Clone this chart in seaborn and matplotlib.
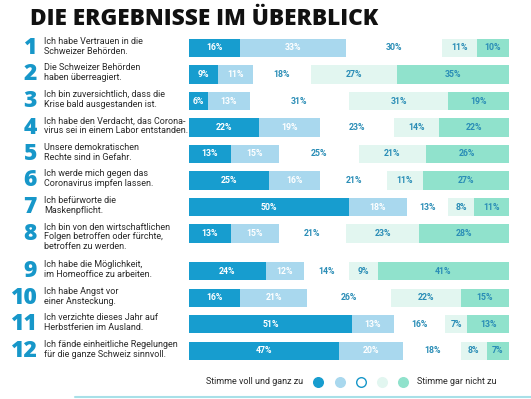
import matplotlib
matplotlib.use("Agg")
import matplotlib.pyplot as plt
import numpy as np
import pandas as pd
import seaborn as sns

# ── Daten ────────────────────────────────────
fragen = [
    "Ich habe Vertrauen in die\nSchweizer Behörden.",
    "Die Schweizer Behörden\nhaben überreagiert.",
    "Ich bin zuversichtlich, dass die\nKrise bald ausgestanden ist.",
    "Ich habe den Verdacht, das Corona-\nvirus sei in einem Labor entstanden.",
    "Unsere demokratischen\nRechte sind in Gefahr.",
    "Ich werde mich gegen das\nCoronavirus impfen lassen.",
    "Ich befürworte die\nMaskenpflicht.",
    "Ich bin von den wirtschaftlichen\nFolgen betroffen oder fürchte,\nbetroffen zu werden.",
    "Ich habe die Möglichkeit,\nim Homeoffice zu arbeiten.",
    "Ich habe Angst vor\neiner Ansteckung.",
    "Ich verzichte dieses Jahr auf\nHerbstferien im Ausland.",
    "Ich fände einheitliche Regelungen\nfür die ganze Schweiz sinnvoll.",
]
voll_zu   = [16, 9, 6, 22, 13, 25, 50, 13, 24, 16, 51, 47]
eher_zu   = [33, 11, 13, 19, 15, 16, 18, 15, 12, 21, 13, 20]
neutral   = [30, 18, 31, 23, 25, 21, 13, 21, 14, 26, 16, 18]
eher_nein = [11, 27, 31, 14, 21, 11, 8, 23, 9, 22, 7, 8]
gar_nicht = [10, 35, 19, 22, 26, 27, 11, 28, 41, 15, 13, 7]

legende_links = "Stimme voll und ganz zu"
legende_rechts = "Stimme gar nicht zu"
titel = "DIE ERGEBNISSE IM ÜBERBLICK"

# ── Stil ─────────────────────────────────────
farben = ["#179dcf", "#a9d8ee", "#ffffff", "#e2f6f0", "#90e2cc"]
text_farben = ["white", "white", "#2a8db6", "#2a8db6", "#2a8db6"]
nummer_farbe = "#1797c9"

sns.set_style("white")
plt.rcParams["font.family"] = ["Roboto", "DejaVu Sans"]

segmente = [voll_zu, eher_zu, neutral, eher_nein, gar_nicht]
df = pd.DataFrame(np.array(segmente).T, columns=["s1", "s2", "s3", "s4", "s5"])
cum = df.cumsum(axis=1)
# Zeilenpositionen (Frage 8 hat drei Zeilen -> etwas mehr Abstand)
df["y"] = [i + (0.43 if i >= 8 else 0.0) for i in range(len(fragen))]

fig = plt.figure(figsize=(5.31, 3.99), dpi=100)
px_per_unit = 26.5
y_top = -48 / px_per_unit
y_bot = y_top + 399 / px_per_unit

ax = fig.add_axes([189 / 531, 0, 320 / 531, 1])
# gestapelt: von hinten nach vorne zeichnen
for k in range(4, -1, -1):
    sns.barplot(x=cum.iloc[:, k].values, y=df["y"].values, orient="h",
                native_scale=True, width=0.68, color=farben[k],
                saturation=1, linewidth=0, errorbar=None, ax=ax)
for i, row in df.iterrows():
    for k in range(5):
        wert = row.iloc[k]
        mitte = cum.iloc[i, k] - wert / 2
        ax.text(mitte, row["y"], f"{int(wert)}%", ha="center", va="center",
                fontsize=6.3, fontweight="bold", color=text_farben[k])
ax.set_xlim(0, 100)
ax.set_ylim(y_bot, y_top)
ax.axis("off")

# ── Texte / Legende (Pixelkoordinaten) ───────
ov = fig.add_axes([0, 0, 1, 1], zorder=-1)
ov.set_xlim(0, 531)
ov.set_ylim(399, 0)
ov.axis("off")
ov.text(30, 19, titel, ha="left", va="center", fontsize=16.3,
        fontweight="heavy", family=["Open Sans", "DejaVu Sans"], color="#111111")
for i, frage in enumerate(fragen):
    yc = 48 + (df["y"][i]) * px_per_unit
    ov.text(37, yc, str(i + 1), ha="right", va="center", fontsize=16.5,
            fontweight="heavy", color=nummer_farbe,
            family=["Open Sans", "DejaVu Sans"])
    ov.text(44, yc - 11, frage, ha="left", va="top", fontsize=6.5,
            color="#2a2a2a", linespacing=1.1)

ov.text(303, 382, legende_links, ha="right", va="center", fontsize=6.5,
        color="#2a2a2a")
ov.text(417, 382, legende_rechts, ha="left", va="center", fontsize=6.5,
        color="#2a2a2a")
leg_x = [318, 340, 361, 382, 403]
for x, f in zip(leg_x, farben):
    ec = nummer_farbe if f == "#ffffff" else f
    ov.scatter([x], [382], s=48, color=f, edgecolor=ec, linewidth=1)
ov.plot([75, 531], [397, 397], color="#a8e0e8", linewidth=1.5)

fig.savefig("out.png", dpi=100)
